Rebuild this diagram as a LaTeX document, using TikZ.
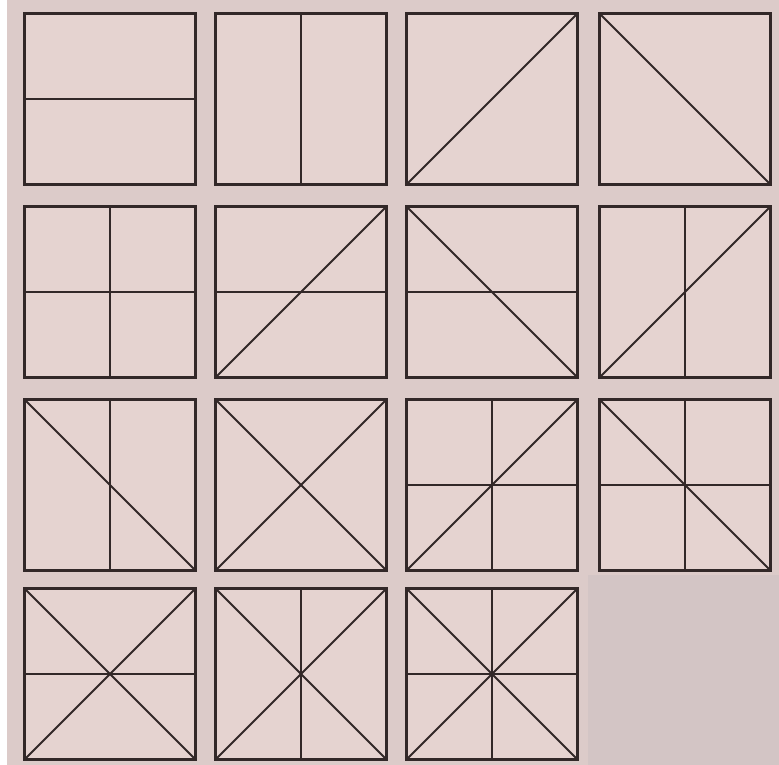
\documentclass[tikz,border=0pt]{standalone}
\usetikzlibrary{positioning}

\definecolor{paper}{RGB}{220,203,201}
\definecolor{tile}{RGB}{229,211,208}
\definecolor{ink}{RGB}{50,40,40}
\definecolor{patch}{RGB}{211,197,197}

\begin{document}
\begin{tikzpicture}[
    x=1pt, y=-1pt,
    panel/.style={
        draw=ink, line width=2.1pt, fill=tile,
        minimum width=171pt, minimum height=171pt,
        inner sep=0pt, outer sep=0pt,
    },
    cut/.style={draw=ink, line width=1.8pt, line cap=round},
]

\def\colA{110}
\def\colB{301}
\def\colC{492}
\def\colD{685}
\def\rowA{99}
\def\rowB{292}
\def\rowC{485}
\def\rowD{674}

% sheet
\fill[white] (0,0) rectangle (779,765);
\fill[paper] (7,0) rectangle (779,765);
\fill[patch] (588,575) rectangle (779,765);

% panels
\node[panel] (s1)  at (\colA,\rowA) {};
\node[panel] (s2)  at (\colB,\rowA) {};
\node[panel] (s3)  at (\colC,\rowA) {};
\node[panel] (s4)  at (\colD,\rowA) {};
\node[panel] (s5)  at (\colA,\rowB) {};
\node[panel] (s6)  at (\colB,\rowB) {};
\node[panel] (s7)  at (\colC,\rowB) {};
\node[panel] (s8)  at (\colD,\rowB) {};
\node[panel] (s9)  at (\colA,\rowC) {};
\node[panel] (s10) at (\colB,\rowC) {};
\node[panel] (s11) at (\colC,\rowC) {};
\node[panel] (s12) at (\colD,\rowC) {};
\node[panel] (s13) at (\colA,\rowD) {};
\node[panel] (s14) at (\colB,\rowD) {};
\node[panel] (s15) at (\colC,\rowD) {};

% horizontal cuts
\foreach \s in {s1, s5, s6, s7, s11, s12, s13, s15}
    \draw[cut] (\s.west) -- (\s.east);
% vertical cuts
\foreach \s in {s2, s5, s8, s9, s11, s12, s14, s15}
    \draw[cut] (\s.north) -- (\s.south);
% rising diagonals
\foreach \s in {s3, s6, s8, s10, s11, s13, s14, s15}
    \draw[cut] (\s.south west) -- (\s.north east);
% falling diagonals
\foreach \s in {s4, s7, s9, s10, s12, s13, s14, s15}
    \draw[cut] (\s.north west) -- (\s.south east);

\end{tikzpicture}
\end{document}
